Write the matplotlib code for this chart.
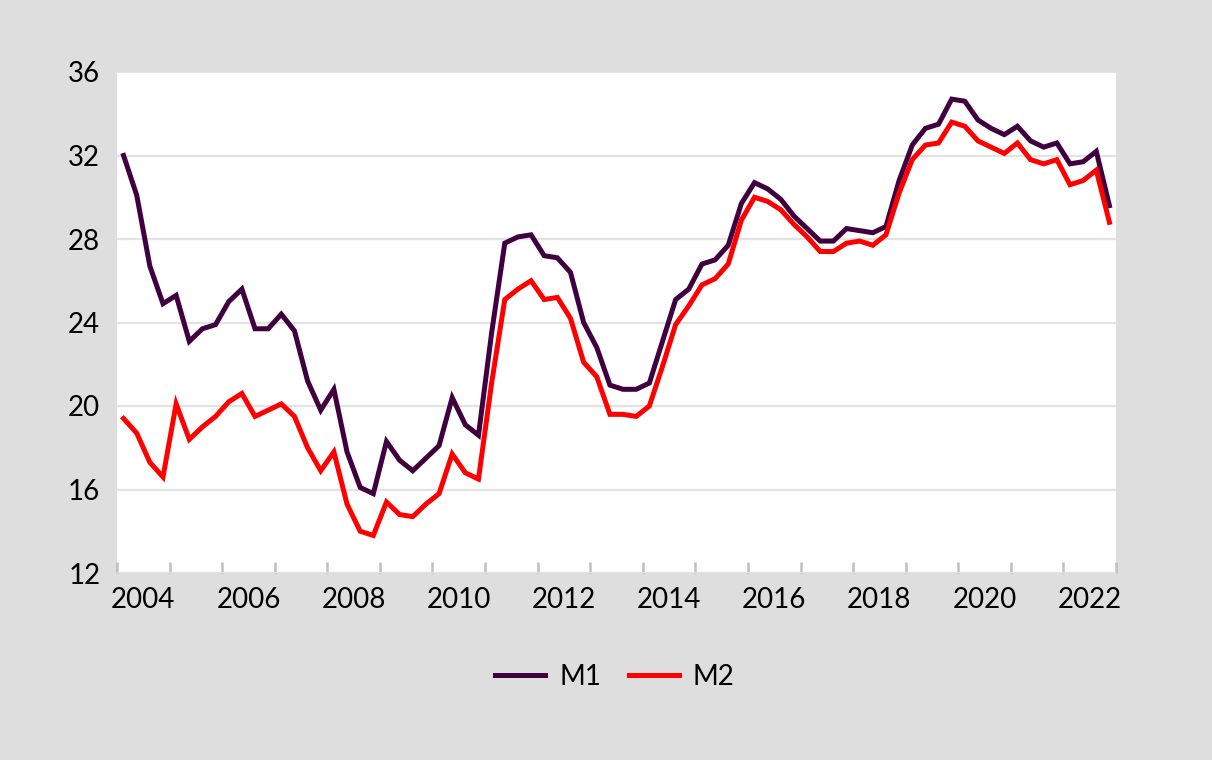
import numpy as np
import matplotlib
matplotlib.use("Agg")
import matplotlib.pyplot as plt
from matplotlib.ticker import FixedLocator, NullFormatter

# ── data: quarterly, 2004Q1 .. 2022Q4 ─────────────────────────────────────────
start_year = 2004
end_year = 2023

m1 = [32.0, 30.1, 26.7, 24.9, 25.3, 23.1, 23.7, 23.9,
      25.0, 25.6, 23.7, 23.7, 24.4, 23.6, 21.2, 19.8,
      20.8, 17.8, 16.1, 15.8, 18.3, 17.4, 16.9, 17.5,
      18.1, 20.4, 19.1, 18.6, 23.5, 27.8, 28.1, 28.2,
      27.2, 27.1, 26.4, 24.0, 22.8, 21.0, 20.8, 20.8,
      21.1, 23.1, 25.1, 25.6, 26.8, 27.0, 27.7, 29.7,
      30.7, 30.4, 29.9, 29.1, 28.5, 27.9, 27.9, 28.5,
      28.4, 28.3, 28.6, 30.8, 32.5, 33.3, 33.5, 34.7,
      34.6, 33.7, 33.3, 33.0, 33.4, 32.7, 32.4, 32.6,
      31.6, 31.7, 32.2, 29.6]

m2 = [19.4, 18.7, 17.3, 16.6, 20.1, 18.4, 19.0, 19.5,
      20.2, 20.6, 19.5, 19.8, 20.1, 19.5, 18.0, 16.9,
      17.8, 15.3, 14.0, 13.8, 15.4, 14.8, 14.7, 15.3,
      15.8, 17.7, 16.8, 16.5, 21.1, 25.1, 25.6, 26.0,
      25.1, 25.2, 24.2, 22.1, 21.4, 19.6, 19.6, 19.5,
      20.0, 21.9, 23.9, 24.8, 25.8, 26.1, 26.8, 28.9,
      30.0, 29.8, 29.4, 28.7, 28.1, 27.4, 27.4, 27.8,
      27.9, 27.7, 28.2, 30.2, 31.8, 32.5, 32.6, 33.6,
      33.4, 32.7, 32.4, 32.1, 32.6, 31.8, 31.6, 31.8,
      30.6, 30.8, 31.3, 28.8]

labels = ["M1", "M2"]
colours = ["#400040", "#ff0000"]

BG = "#dedede"
GRID = "#e3e3e3"
TICK = "#bfbfbf"

plt.rcParams["font.family"] = ["Lato", "DejaVu Sans"]

# each quarter plotted at the middle of its quarter
q = np.arange(len(m1))
x = start_year + (q + 0.5) / 4

fig = plt.figure(figsize=(12.12, 7.6), dpi=100, facecolor=BG)
ax = fig.add_axes([117 / 1212, 1 - 573 / 760, (1116 - 117) / 1212, (573 - 72) / 760])
ax.set_facecolor("white")

for series, lab, col in zip([m1, m2], labels, colours):
    ax.plot(x, series, color=col, linewidth=3.6, label=lab,
            solid_joinstyle="miter", zorder=3)

ax.set_xlim(start_year, end_year)
ax.set_ylim(12, 36)
ax.set_yticks(np.arange(12, 37, 4))
ax.grid(axis="y", color=GRID, linewidth=1.6, zorder=0)
ax.tick_params(axis="y", length=0, labelsize=20, pad=12)

# year boundaries as tick marks, labels centred on every second year
years = np.arange(start_year, end_year + 1)
ax.xaxis.set_major_locator(FixedLocator(years))
ax.xaxis.set_major_formatter(NullFormatter())
ax.tick_params(axis="x", which="major", direction="in", length=8,
               width=1.8, color=TICK)
lab_years = np.arange(start_year, end_year, 2)
ax.set_xticks(lab_years + 0.5, minor=True)
ax.set_xticklabels([str(y) for y in lab_years], minor=True)
ax.tick_params(axis="x", which="minor", length=0, labelsize=20, pad=10)

for s in ax.spines.values():
    s.set_visible(False)

fig.legend(loc="center", bbox_to_anchor=(615 / 1212, 1 - 677 / 760), ncol=2,
           frameon=False, fontsize=20, handlelength=1.8, handletextpad=0.5,
           columnspacing=1.0)

fig.savefig("out.png", dpi=100, facecolor=BG)
